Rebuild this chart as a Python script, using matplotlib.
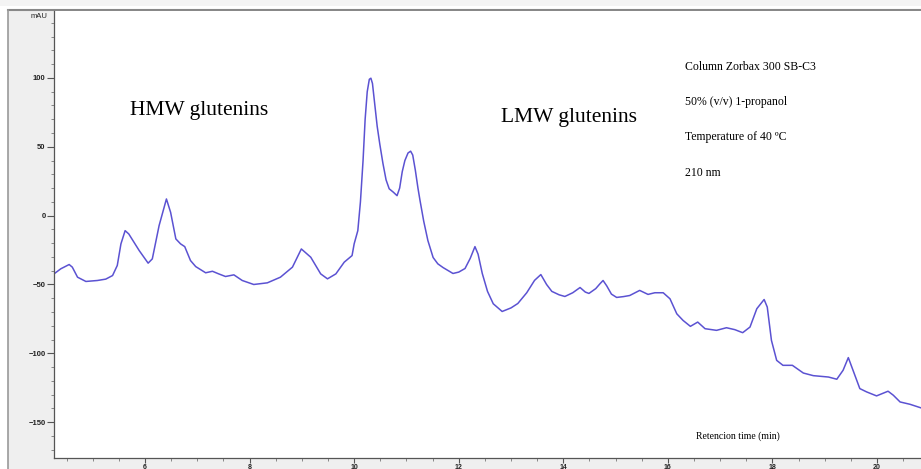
import numpy as np
import matplotlib.pyplot as plt
from matplotlib.patches import Rectangle
from matplotlib.lines import Line2D
from matplotlib.ticker import MultipleLocator

# retention time (min) and absorbance (mAU)
time_min = [4.26, 4.39, 4.55, 4.61, 4.71, 4.87, 5.09, 5.25, 5.38, 5.47, 5.54,
            5.62, 5.69, 5.89, 6.06, 6.14, 6.27, 6.41, 6.49, 6.59, 6.68, 6.76,
            6.87, 6.97, 7.16, 7.29, 7.41, 7.54, 7.70, 7.86, 8.08, 8.34, 8.59,
            8.82, 8.99, 9.17, 9.36, 9.49, 9.65, 9.81, 9.96, 10.00, 10.07,
            10.12, 10.17, 10.21, 10.25, 10.29, 10.32, 10.35, 10.39, 10.44,
            10.49, 10.55, 10.61, 10.67, 10.75, 10.82, 10.87, 10.92, 10.97,
            11.03, 11.08, 11.12, 11.17, 11.22, 11.26, 11.33, 11.41, 11.51,
            11.60, 11.70, 11.80, 11.89, 12.00, 12.12, 12.22, 12.31, 12.37,
            12.45, 12.55, 12.66, 12.83, 13.00, 13.13, 13.30, 13.45, 13.57,
            13.68, 13.78, 13.92, 14.03, 14.18, 14.32, 14.42, 14.49, 14.62,
            14.70, 14.76, 14.83, 14.92, 15.02, 15.15, 15.27, 15.40, 15.46,
            15.62, 15.75, 15.91, 16.04, 16.17, 16.29, 16.43, 16.57, 16.71,
            16.93, 17.12, 17.28, 17.43, 17.57, 17.70, 17.84, 17.90, 17.98,
            18.08, 18.20, 18.38, 18.59, 18.78, 19.07, 19.23, 19.35, 19.45,
            19.54, 19.67, 19.80, 19.99, 20.21, 20.31, 20.44, 20.63, 20.84]
signal_mau = [-42.3, -38.6, -35.5, -37.4, -44.7, -47.8, -47.1, -46.1, -43.5,
              -36.2, -20.5, -10.9, -13.3, -25.4, -34.5, -31.4, -7.2, 12.1,
              2.4, -16.9, -20.5, -22.5, -32.6, -37.0, -41.5, -40.4, -42.3,
              -44.2, -43.0, -47.1, -50.0, -48.8, -44.7, -37.4, -24.2, -30.2,
              -42.3, -45.9, -42.3, -33.8, -29.0, -20.5, -10.9, 10.0, 39.9,
              70.0, 90.0, 99.0, 99.8, 96.0, 82.0, 65.0, 52.0, 38.0, 26.0,
              19.5, 17.0, 14.5, 20.0, 32.0, 40.0, 45.5, 46.8, 44.0, 33.0,
              20.0, 10.9, -4.0, -18.1, -30.4, -35.0, -37.7, -40.0, -42.0,
              -41.0, -38.4, -31.0, -22.5, -28.0, -42.0, -55.0, -64.0, -69.6,
              -67.0, -63.8, -56.0, -47.0, -42.8, -50.0, -55.0, -57.5, -58.7,
              -56.0, -52.2, -55.5, -56.5, -53.0, -49.5, -47.1, -51.0, -57.0,
              -59.4, -58.8, -58.0, -55.5, -54.3, -57.2, -56.0, -56.0, -60.4,
              -71.3, -76.1, -80.4, -77.3, -82.1, -83.3, -81.4, -82.8, -85.0,
              -80.9, -67.6, -60.9, -66.4, -90.6, -105.1, -108.7, -108.7,
              -114.3, -116.2, -117.2, -118.8, -112.3, -103.1, -112.3, -125.6,
              -128.0, -130.9, -127.5, -130.4, -135.3, -137.0, -139.6]

info_lines = ["Column Zorbax 300 SB-C3", "50% (v/v) 1-propanol",
              "Temperature of 40 ºC", "210 nm"]

W, H = 921, 469
fig = plt.figure(figsize=(W / 100, H / 100), dpi=100, facecolor='white')

# gray instrument frame, kept behind the axes
fig.patches.append(Rectangle((8 / W, 0), 1 - 8 / W, 1 - 10 / H,
                             transform=fig.transFigure, facecolor='#efefef',
                             edgecolor='none', zorder=-5))
fig.patches.append(Rectangle((0, 1 - 6 / H), 1, 6 / H,
                             transform=fig.transFigure, facecolor='#f4f4f4',
                             edgecolor='none', zorder=-5))
fig.lines.append(Line2D([8 / W, 1], [1 - 10 / H, 1 - 10 / H],
                        transform=fig.transFigure, color='#888888', lw=1.5,
                        zorder=-4))
fig.lines.append(Line2D([8 / W, 8 / W], [0, 1 - 10 / H],
                        transform=fig.transFigure, color='#999999', lw=1.2,
                        zorder=-4))

ax = fig.add_axes([54 / W, 1 - 458 / H, 1 - 54 / W, (458 - 11) / H])
ax.set_zorder(1)
ax.set_facecolor('white')
ax.plot(time_min, signal_mau, color='#5b52d2', lw=1.1, solid_joinstyle='round')

ax.set_xlim(4.26, 20.84)
ax.set_ylim(-176, 148.6)

for s in ['top', 'right']:
    ax.spines[s].set_visible(False)
for s in ['left', 'bottom']:
    ax.spines[s].set_color('#555555')
    ax.spines[s].set_linewidth(0.9)

ax.set_yticks([-150, -100, -50, 0, 50, 100])
ax.yaxis.set_minor_locator(MultipleLocator(10))
ax.xaxis.set_major_locator(MultipleLocator(2))
ax.xaxis.set_minor_locator(MultipleLocator(0.5))
ax.tick_params(axis='both', which='major', labelsize=5.5, labelcolor='#222222',
               color='#555555', width=0.8, direction='out')
ax.tick_params(axis='y', which='major', length=5, pad=1)
ax.tick_params(axis='y', which='minor', length=2, color='#777777')
ax.tick_params(axis='x', which='major', labelsize=5, length=3.5, pad=0.5)
ax.tick_params(axis='x', which='minor', length=2.5, color='#777777')
for lab in ax.get_xticklabels() + ax.get_yticklabels():
    lab.set_fontfamily('Liberation Sans')
    lab.set_fontweight('bold')

fig.text(47 / W, 1 - 17 / H, 'mAU', ha='right', va='center', fontsize=5.5,
         family='Liberation Sans', color='#222222', zorder=3)

serif = 'Liberation Serif'
ax.text(5.71, 76, 'HMW glutenins', fontsize=15.5, family=serif, va='center')
ax.text(12.80, 71, 'LMW glutenins', fontsize=15.5, family=serif, va='center')
for i, line in enumerate(info_lines):
    ax.text(16.33, 108 - i * 25.6, line, fontsize=8.5, family=serif,
            va='center')
ax.text(17.34, -160, 'Retencion time (min)', fontsize=7, family=serif,
        ha='center', va='center')

fig.savefig('out.png', dpi=100, facecolor=fig.get_facecolor())
